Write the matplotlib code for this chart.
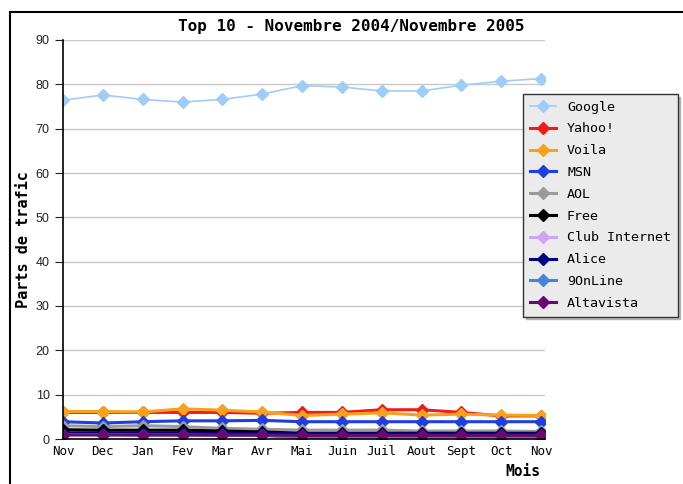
import matplotlib
matplotlib.use('Agg')
import matplotlib.pyplot as plt
from matplotlib.lines import Line2D

# Monthly traffic shares, Nov 2004 -> Nov 2005
months = ['Nov', 'Dec', 'Jan', 'Fev', 'Mar', 'Avr', 'Mai', 'Juin',
          'Juil', 'Aout', 'Sept', 'Oct', 'Nov']

google = [76.4, 77.6, 76.6, 76.0, 76.6, 77.8, 79.7, 79.4, 78.5, 78.5, 79.8, 80.7, 81.3]
yahoo = [6.0, 6.0, 6.0, 6.0, 6.0, 5.8, 6.0, 6.0, 6.6, 6.6, 6.0, 5.2, 5.2]
voila = [6.2, 6.2, 6.1, 6.8, 6.5, 6.1, 5.3, 5.6, 5.9, 5.4, 5.6, 5.4, 5.3]
msn = [3.9, 3.6, 3.9, 4.1, 4.1, 4.2, 3.9, 3.9, 3.9, 3.9, 3.9, 3.9, 3.9]
aol = [3.0, 2.8, 3.0, 2.8, 2.4, 2.2, 2.0, 2.0, 2.0, 1.8, 1.8, 1.8, 1.7]
free = [2.1, 2.0, 2.0, 2.0, 1.8, 1.6, 1.3, 1.3, 1.3, 1.3, 1.3, 1.3, 1.3]
club = [1.2, 1.2, 1.2, 1.2, 1.1, 1.1, 1.0, 1.0, 1.0, 1.0, 1.0, 1.0, 1.0]
alice = [1.4, 1.4, 1.4, 1.4, 1.3, 1.3, 1.2, 1.2, 1.2, 1.2, 1.2, 1.2, 1.2]
onl9 = [1.0, 1.0, 0.9, 0.9, 0.8, 0.8, 0.2, 0.2, 0.1, 0.2, 0.2, 0.2, 0.2]
altavista = [0.9, 0.9, 0.9, 0.9, 0.9, 0.9, 0.8, 0.8, 0.8, 0.8, 0.8, 0.8, 0.8]

series = [
    ('Google', google, '#9fcdf8'),
    ('Yahoo!', yahoo, '#ee1c1c'),
    ('Voila', voila, '#f8a21c'),
    ('MSN', msn, '#1e3ee0'),
    ('AOL', aol, '#9a9a9a'),
    ('Free', free, '#000000'),
    ('Club Internet', club, '#cfa4f4'),
    ('Alice', alice, '#000080'),
    ('9OnLine', onl9, '#4a82d8'),
    ('Altavista', altavista, '#6a0a6e'),
]

mono = 'DejaVu Sans Mono'

fig = plt.figure(figsize=(6.83, 4.84), dpi=100)
ax = fig.add_axes([63/683, 1-439/484, (545-63)/683, (439-40)/484])

x = list(range(len(months)))
handles = []
for name, vals, col in series:
    lw = 1.2 if name == 'Google' else 2.2
    h, = ax.plot(x, vals, color=col, lw=lw, marker='D', markersize=6.5,
                 markeredgecolor=col, label=name)
    handles.append(h)

ax.set_xlim(0, 12*(545-63)/478)
ax.set_ylim(0, 90)
ax.set_yticks(range(0, 91, 10))
ax.set_xticks(x)
ax.set_xticklabels(months, fontfamily=mono, fontsize=9)
ax.tick_params(axis='x', length=0, pad=4)
ax.tick_params(axis='y', length=6, direction='out', labelsize=9, colors='#222222')
for lab in ax.get_yticklabels():
    lab.set_fontfamily('Liberation Sans')
ax.yaxis.grid(True, color='#c8c8c8', lw=1)
ax.set_axisbelow(True)
for s in ['top', 'right']:
    ax.spines[s].set_visible(False)
ax.spines['left'].set_linewidth(1.2)
ax.spines['bottom'].set_linewidth(1.2)

fig.text(0.514, 1-27/484, 'Top 10 - Novembre 2004/Novembre 2005', ha='center',
         va='center', fontfamily=mono, fontweight='bold', fontsize=11.5)
fig.text(24/683, 1-240/484, 'Parts de trafic', rotation=90, ha='center',
         va='center', fontfamily=mono, fontweight='bold', fontsize=11)
fig.text(540/683, 1-472/484, 'Mois', ha='right', va='center',
         fontfamily=mono, fontweight='bold', fontsize=10.5)

leg = fig.legend(handles=handles, loc='upper left',
                 bbox_to_anchor=(523/683, 1-94/484), borderaxespad=0,
                 prop={'family': mono, 'size': 9.6}, labelspacing=0.66,
                 handlelength=2.0, handletextpad=0.8, borderpad=0.5,
                 fancybox=False, frameon=True,
                 shadow={'color': '#a0a0a0', 'alpha': 0.7})
leg.get_frame().set_facecolor('#ebebeb')
leg.get_frame().set_edgecolor('#333333')
leg.get_frame().set_alpha(1)

# outer frame (top and left edges)
fig.add_artist(Line2D([10/683, 10/683], [0, 1-12/484], color='black', lw=1.5,
                      transform=fig.transFigure))
fig.add_artist(Line2D([10/683, 1], [1-12/484, 1-12/484], color='black', lw=1.5,
                      transform=fig.transFigure))

fig.savefig('out.png', dpi=100)
